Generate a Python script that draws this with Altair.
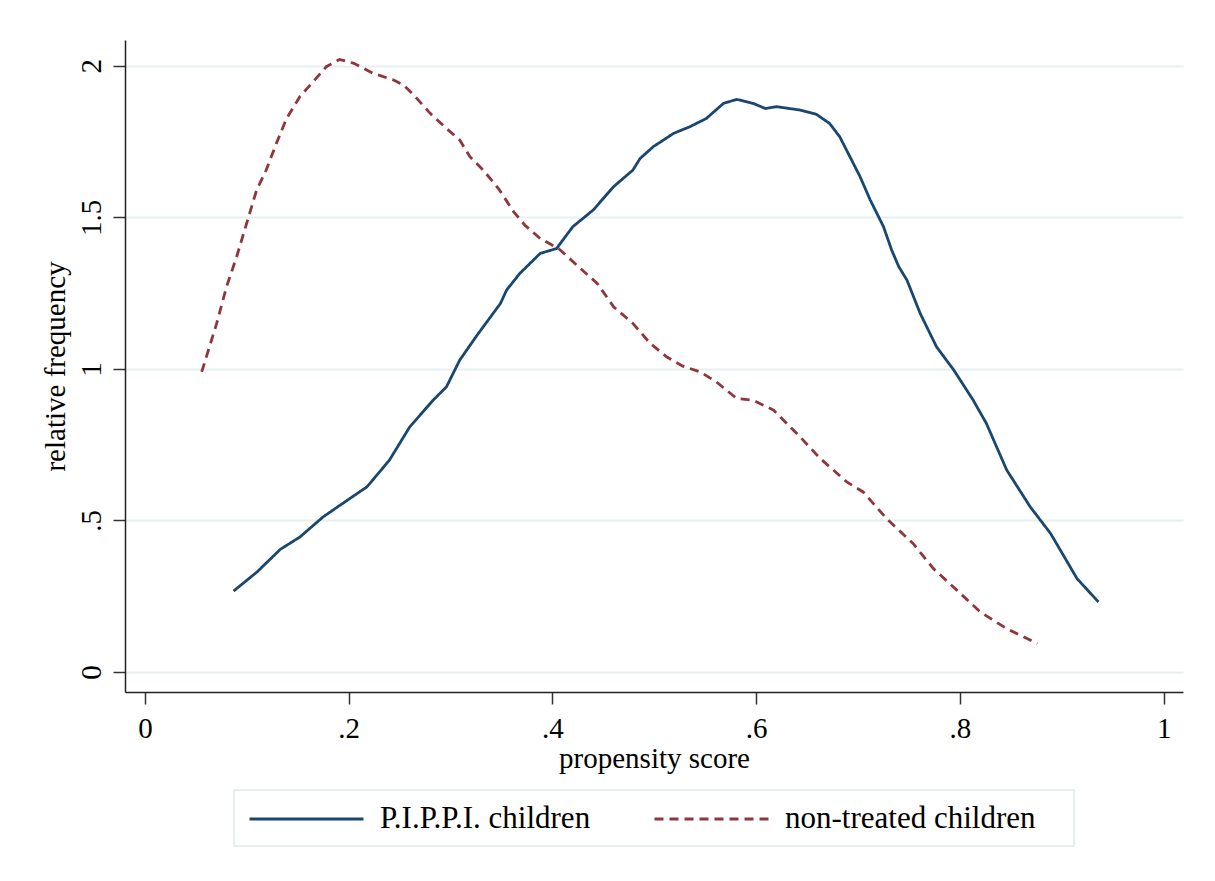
import altair as alt
import pandas as pd

# ---- data ----
series_names = ["P.I.P.P.I. children", "non-treated children"]
series_colors = ["#1a476f", "#90353b"]

pippi_x = [0.087, 0.110, 0.133, 0.152, 0.175, 0.201, 0.218, 0.240, 0.250, 0.260,
           0.283, 0.296, 0.309, 0.326, 0.349, 0.355, 0.368, 0.388, 0.404, 0.420,
           0.440, 0.460, 0.479, 0.486, 0.499, 0.519, 0.535, 0.551, 0.568, 0.581,
           0.597, 0.609, 0.620, 0.643, 0.659, 0.672, 0.682, 0.692, 0.702, 0.712,
           0.725, 0.733, 0.740, 0.748, 0.761, 0.777, 0.794, 0.813, 0.826, 0.846,
           0.869, 0.889, 0.915, 0.936]
pippi_y = [0.267, 0.330, 0.405, 0.445, 0.512, 0.572, 0.611, 0.699, 0.754, 0.809,
           0.897, 0.941, 1.029, 1.111, 1.216, 1.260, 1.315, 1.381, 1.397, 1.469,
           1.524, 1.601, 1.656, 1.694, 1.733, 1.777, 1.799, 1.826, 1.876, 1.889,
           1.876, 1.859, 1.865, 1.854, 1.840, 1.810, 1.766, 1.700, 1.634, 1.557,
           1.469, 1.392, 1.337, 1.293, 1.183, 1.073, 0.996, 0.897, 0.820, 0.666,
           0.545, 0.457, 0.308, 0.231]

non_x = [0.0557, 0.0704, 0.080, 0.090, 0.0998, 0.1096, 0.119, 0.129, 0.139, 0.152,
         0.165, 0.178, 0.191, 0.205, 0.224, 0.244, 0.254, 0.264, 0.280, 0.296,
         0.309, 0.319, 0.332, 0.347, 0.362, 0.373, 0.388, 0.406, 0.424, 0.444,
         0.460, 0.479, 0.496, 0.512, 0.528, 0.545, 0.561, 0.581, 0.597, 0.617,
         0.643, 0.663, 0.689, 0.705, 0.728, 0.754, 0.774, 0.797, 0.820, 0.846,
         0.876]
non_y = [0.99, 1.15, 1.27, 1.37, 1.48, 1.59, 1.656, 1.744, 1.826, 1.898,
         1.947, 1.997, 2.021, 2.008, 1.975, 1.953, 1.936, 1.903, 1.843, 1.793,
         1.755, 1.700, 1.656, 1.595, 1.518, 1.474, 1.430, 1.397, 1.342, 1.282,
         1.205, 1.150, 1.084, 1.040, 1.009, 0.990, 0.957, 0.902, 0.897, 0.864,
         0.776, 0.704, 0.627, 0.594, 0.506, 0.424, 0.341, 0.270, 0.198, 0.143,
         0.094]

x_ticks = [0, 0.2, 0.4, 0.6, 0.8, 1]
y_ticks = [0, 0.5, 1, 1.5, 2]

df = pd.concat([
    pd.DataFrame({"x": pippi_x, "y": pippi_y, "group": series_names[0],
                  "order": range(len(pippi_x))}),
    pd.DataFrame({"x": non_x, "y": non_y, "group": series_names[1],
                  "order": range(len(non_x))}),
], ignore_index=True)

FONT = "Liberation Serif"
FS = 29
label_expr = "replace(format(datum.value, '~g'), '0.', '.')"

legend_cfg = alt.Legend(
    title=None,
    orient="none",
    legendX=109,
    legendY=750,
    direction="horizontal",
    symbolType="stroke",
    symbolSize=12996,
    symbolStrokeWidth=2.8,
    clipHeight=30,
    labelFont=FONT,
    labelFontSize=31,
    labelColor="#000000",
    labelOffset=15,
    labelLimit=400,
    columnPadding=62,
    padding=14,
)

lines = alt.Chart(df).mark_line(strokeWidth=2.8).encode(
    x=alt.X("x:Q",
            scale=alt.Scale(domain=[-0.0196, 1.019], nice=False, zero=False),
            axis=alt.Axis(values=x_ticks, title="propensity score", grid=False,
                          labelExpr=label_expr, labelFlush=False,
                          labelPadding=10, tickSize=12,
                          titleBaseline="alphabetic", titleY=75)),
    y=alt.Y("y:Q",
            scale=alt.Scale(domain=[-0.066, 2.085], nice=False, zero=False),
            axis=alt.Axis(values=y_ticks, title="relative frequency", grid=True,
                          labelExpr=label_expr, labelAngle=270, labelAlign="center",
                          labelBaseline="alphabetic", labelPadding=13, tickSize=12,
                          titleAngle=270, titleX=-61, titleBaseline="alphabetic",
                          titleAlign="center")),
    color=alt.Color("group:N",
                    scale=alt.Scale(domain=series_names, range=series_colors),
                    legend=legend_cfg),
    strokeDash=alt.StrokeDash("group:N",
                              scale=alt.Scale(domain=series_names, range=[[1, 0], [9, 6]]),
                              legend=legend_cfg),
    order="order:Q",
)

# light frame around the legend (decoration)
legend_frame = alt.Chart(pd.DataFrame({"a": [0]})).mark_rect(
    fill="transparent", stroke="#dfe9eb", strokeWidth=1.5
).encode(
    x=alt.value(109), x2=alt.value(949), y=alt.value(750), y2=alt.value(806)
)

chart = alt.layer(lines, legend_frame).properties(
    width=1058,
    height=652,
    autosize=alt.AutoSizeParams(type="none"),
    padding={"left": 117, "top": 32, "right": 24, "bottom": 181},
    background="#ffffff",
).configure_view(
    stroke=None
).configure_axis(
    labelFont=FONT,
    labelFontSize=FS,
    labelColor="#000000",
    titleFont=FONT,
    titleFontSize=FS,
    titleFontWeight="normal",
    titleColor="#000000",
    domainColor="#222222",
    domainWidth=1.5,
    tickColor="#333333",
    tickWidth=1.5,
    gridColor="#e6eff0",
    gridWidth=2,
    labelOverlap=False,
)

chart.save("out.html", embed_options={"renderer": "svg", "actions": False})
